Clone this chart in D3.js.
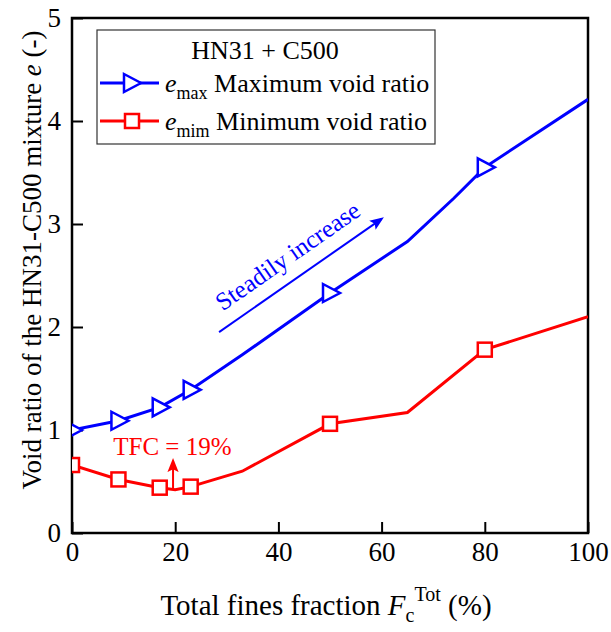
<!DOCTYPE html>
<html>
<head>
<meta charset="utf-8">
<script src="https://cdn.jsdelivr.net/npm/d3@7"></script>
<style>
	body { margin: 0; background: #fff; }
	svg text { font-family: "Liberation Serif", "Times New Roman", serif !important; }
</style>
</head>
<body>
<div id="chart"></div>
<script>
// data
var finesMax = [0, 9, 17, 23, 33, 50, 65, 74, 80, 100];
var eMax = [1.0, 1.09, 1.22, 1.39, 1.73, 2.33, 2.83, 3.25, 3.55, 4.21];
var finesMin = [0, 9, 17, 20, 23, 33, 50, 65, 80, 100];
var eMin = [0.66, 0.52, 0.44, 0.42, 0.45, 0.60, 1.06, 1.17, 1.78, 2.10];
// fractions where a marker is drawn
var markerFines = [0, 9, 17, 23, 50, 80];
var xTicks = [0, 20, 40, 60, 80, 100];
var yTicks = [0, 1, 2, 3, 4, 5];
var tfc = 19;

var svgWidth = 611;
var svgHeight = 632;
var margin = { top: 18, right: 23, bottom: 99, left: 72 };
var width = svgWidth - margin.left - margin.right;
var height = svgHeight - margin.top - margin.bottom;

var svg = d3.select("#chart").append("svg")
	.attr("width", svgWidth)
	.attr("height", svgHeight);

var defs = svg.append("defs");
defs.append("clipPath").attr("id", "plotClip")
	.append("rect").attr("width", width).attr("height", height);

function arrowHead(id, color, size) {
	defs.append("marker")
		.attr("id", id)
		.attr("viewBox", "0 0 10 10")
		.attr("refX", 8).attr("refY", 5)
		.attr("markerWidth", size).attr("markerHeight", size)
		.attr("orient", "auto")
		.append("path")
		.attr("d", "M0,1 L10,5 L0,9 L2,5 Z")
		.attr("fill", color);
}
arrowHead("arrowBlue", "blue", 7);
arrowHead("arrowRed", "red", 7);

var chartGroup = svg.append("g")
	.attr("transform", `translate(${margin.left}, ${margin.top})`);

var xScale = d3.scaleLinear().domain([0, 100]).range([0, width]);
var yScale = d3.scaleLinear().domain([0, 5]).range([height, 0]);

// axes with inward ticks
var xAxis = chartGroup.append("g")
	.attr("transform", `translate(0, ${height})`)
	.call(d3.axisBottom(xScale).tickValues(d3.range(10, 100, 20)).tickSize(-6).tickFormat(""))
	.call(d3.axisBottom(xScale).tickValues(xTicks).tickSize(-11).tickPadding(9).tickFormat(d3.format("d")));

var yAxis = chartGroup.append("g")
	.call(d3.axisLeft(yScale).tickValues(d3.range(0.5, 5, 1)).tickSize(-6).tickFormat(""))
	.call(d3.axisLeft(yScale).tickValues(yTicks).tickSize(-11).tickPadding(11).tickFormat(d3.format("d")));

chartGroup.selectAll(".domain").remove();
chartGroup.selectAll(".tick line").attr("stroke", "#000").attr("stroke-width", 2);
chartGroup.selectAll(".tick text")
	.attr("font-size", 27)
	.attr("fill", "#000");

// frame
chartGroup.append("rect")
	.attr("width", width).attr("height", height)
	.attr("fill", "none").attr("stroke", "#000").attr("stroke-width", 2.5);

var plot = chartGroup.append("g").attr("clip-path", "url(#plotClip)");

var line = d3.line().x(d => xScale(d[0])).y(d => yScale(d[1]));

var maxData = finesMax.map((f, i) => [f, eMax[i]]);
var minData = finesMin.map((f, i) => [f, eMin[i]]);

plot.append("path").datum(maxData)
	.attr("d", line).attr("fill", "none")
	.attr("stroke", "blue").attr("stroke-width", 3);

plot.append("path").datum(minData)
	.attr("d", line).attr("fill", "none")
	.attr("stroke", "red").attr("stroke-width", 3);

var triPath = "M-7,-9 L10,0 L-7,9 Z";

plot.selectAll(".triMarker")
	.data(maxData.filter(d => markerFines.includes(d[0])))
	.enter().append("path")
	.attr("class", "triMarker")
	.attr("d", triPath)
	.attr("transform", d => `translate(${xScale(d[0])}, ${yScale(d[1])})`)
	.attr("fill", "#fff").attr("stroke", "blue").attr("stroke-width", 2.5);

plot.selectAll(".sqMarker")
	.data(minData.filter(d => markerFines.includes(d[0])))
	.enter().append("rect")
	.attr("class", "sqMarker")
	.attr("x", d => xScale(d[0]) - 7)
	.attr("y", d => yScale(d[1]) - 7)
	.attr("width", 14).attr("height", 14)
	.attr("fill", "#fff").attr("stroke", "red").attr("stroke-width", 2.5);

// TFC annotation
var tfcY = eMin[finesMin.indexOf(20)];
chartGroup.append("line")
	.attr("x1", xScale(tfc) + 3).attr("x2", xScale(tfc) + 3)
	.attr("y1", yScale(tfcY)).attr("y2", yScale(0.7))
	.attr("stroke", "red").attr("stroke-width", 2)
	.attr("marker-end", "url(#arrowRed)");

chartGroup.append("text")
	.attr("x", xScale(8)).attr("y", yScale(0.755))
	.attr("fill", "red").attr("font-size", 25)
	.text("TFC = 19%");

// steadily increase annotation
var sx1 = xScale(28.5), sy1 = yScale(1.95), sx2 = xScale(60), sy2 = yScale(3.05);
chartGroup.append("line")
	.attr("x1", sx1).attr("y1", sy1).attr("x2", sx2).attr("y2", sy2)
	.attr("stroke", "blue").attr("stroke-width", 2)
	.attr("marker-end", "url(#arrowBlue)");

var ang = Math.atan2(sy2 - sy1, sx2 - sx1) * 180 / Math.PI;
chartGroup.append("text")
	.attr("transform", `translate(${xScale(29.2)}, ${yScale(2.15)}) rotate(${ang})`)
	.attr("fill", "blue").attr("font-size", 25)
	.text("Steadily increase");

// legend
var legend = chartGroup.append("g")
	.attr("transform", `translate(${25}, ${12})`);

legend.append("rect")
	.attr("width", 338).attr("height", 114)
	.attr("fill", "#fff").attr("stroke", "#333").attr("stroke-width", 1.2);

legend.append("text")
	.attr("x", 168).attr("y", 29)
	.attr("text-anchor", "middle").attr("font-size", 26)
	.text("HN31 + C500");

var legendItems = [
	{ color: "blue", sub: "max", label: "Maximum void ratio", y: 53, shape: "tri" },
	{ color: "red", sub: "mim", label: "Minimum void ratio", y: 91, shape: "sq" }
];

legendItems.forEach(item => {
	var row = legend.append("g").attr("transform", `translate(0, ${item.y})`);
	row.append("line")
		.attr("x1", 3).attr("x2", 62)
		.attr("stroke", item.color).attr("stroke-width", 3);
	if (item.shape === "tri") {
		row.append("path").attr("d", triPath)
			.attr("transform", "translate(34, 0)")
			.attr("fill", "#fff").attr("stroke", item.color).attr("stroke-width", 2.5);
	} else {
		row.append("rect")
			.attr("x", 28).attr("y", -7).attr("width", 14).attr("height", 14)
			.attr("fill", "#fff").attr("stroke", item.color).attr("stroke-width", 2.5);
	}
	var t = row.append("text").attr("x", 68).attr("y", 9).attr("font-size", 26);
	t.append("tspan").attr("font-style", "italic").text("e");
	t.append("tspan").attr("font-size", 18).attr("dy", 7).text(item.sub);
	t.append("tspan").attr("dy", -7).text(" " + item.label);
});

// axis titles
var xTitle = svg.append("text")
	.attr("x", 326).attr("y", 615)
	.attr("text-anchor", "middle").attr("font-size", 29);
xTitle.append("tspan").text("Total fines fraction ");
xTitle.append("tspan").attr("font-style", "italic").text("F");
xTitle.append("tspan").attr("font-size", 20).attr("dy", 7).text("c");
xTitle.append("tspan").attr("font-size", 20).attr("dy", -21).text("Tot");
xTitle.append("tspan").attr("dy", 14).text(" (%)");

var yTitle = svg.append("text")
	.attr("transform", `translate(41, 260) rotate(-90)`)
	.attr("text-anchor", "middle").attr("font-size", 27);
yTitle.append("tspan").text("Void ratio of the HN31-C500 mixture ");
yTitle.append("tspan").attr("font-style", "italic").text("e");
yTitle.append("tspan").text(" (-)");
</script>
</body>
</html>
